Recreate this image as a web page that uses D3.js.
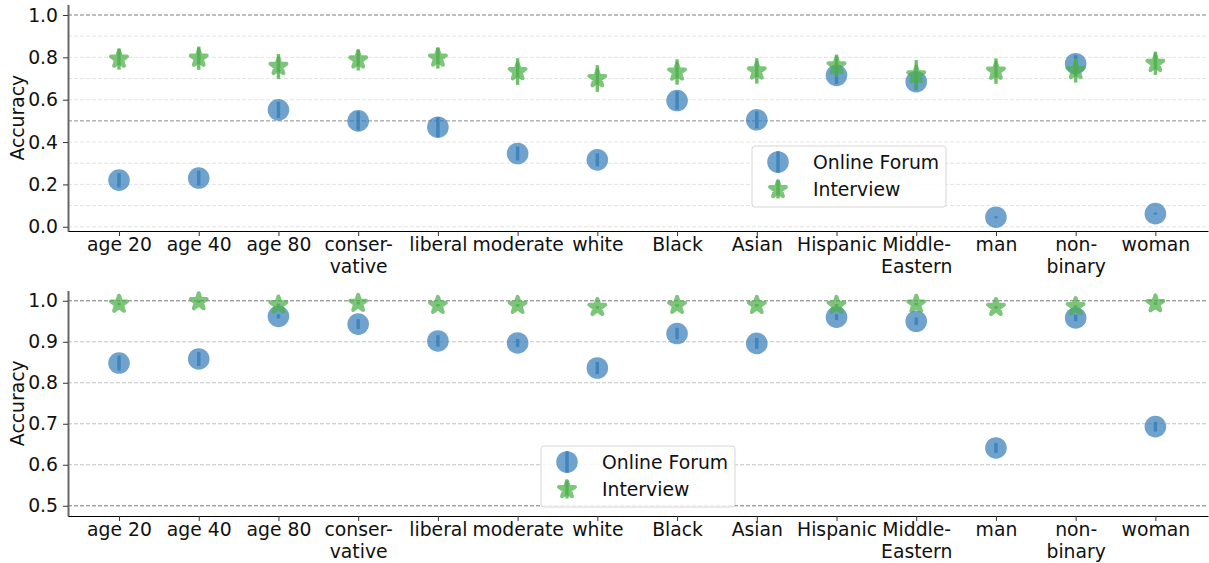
<!DOCTYPE html>
<html lang="en">
<head>
  <meta charset="UTF-8">
  <title>accuracy by group</title>
  <script src="https://d3js.org/d3.v7.min.js"></script>
  <style>
    body { margin: 0; background: #fff; }
    text { font-family: "DejaVu Sans", sans-serif; }
  </style>
</head>
<body>
<script>
  const WIDTH = 1209;
  const HEIGHT = 563;
  const FS = 18.8;

  const categories = ["age 20", "age 40", "age 80", "conser-\nvative", "liberal", "moderate", "white",
    "Black", "Asian", "Hispanic", "Middle-\nEastern", "man", "non-\nbinary", "woman"];
  const seriesNames = ["Online Forum", "Interview"];

  // top panel
  const topForum = [0.22, 0.23, 0.552, 0.50, 0.47, 0.346, 0.316, 0.596, 0.505, 0.715, 0.685, 0.045, 0.77, 0.062];
  const topForumErr = [0.033, 0.035, 0.038, 0.045, 0.047, 0.033, 0.031, 0.043, 0.04, 0.04, 0.04, 0.005, 0.04, 0.005];
  const topInterview = [0.792, 0.796, 0.757, 0.788, 0.797, 0.733, 0.70, 0.731, 0.736, 0.76, 0.717, 0.735, 0.738, 0.772];
  const topInterviewErr = [0.05, 0.055, 0.059, 0.05, 0.05, 0.063, 0.063, 0.06, 0.06, 0.053, 0.07, 0.06, 0.057, 0.055];
  const topTicks = [0.0, 0.2, 0.4, 0.6, 0.8, 1.0];
  const topMinorTicks = [0.1, 0.3, 0.7, 0.9];
  const topRefLines = [0.5, 1.0];

  // bottom panel
  const botForum = [0.848, 0.858, 0.962, 0.943, 0.902, 0.897, 0.836, 0.92, 0.896, 0.96, 0.95, 0.641, 0.958, 0.693];
  const botForumErr = [0.018, 0.017, 0.005, 0.012, 0.014, 0.01, 0.015, 0.014, 0.013, 0.007, 0.009, 0.012, 0.008, 0.012];
  const botInterview = [0.992, 0.998, 0.99, 0.994, 0.989, 0.989, 0.984, 0.989, 0.989, 0.989, 0.992, 0.984, 0.986, 0.993];
  const botInterviewErr = [0.003, 0.003, 0.003, 0.003, 0.003, 0.003, 0.003, 0.003, 0.003, 0.003, 0.003, 0.003, 0.003, 0.003];
  const botTicks = [0.5, 0.6, 0.7, 0.8, 0.9, 1.0];
  const botRefLines = [0.5, 1.0];

  const BLUE = '#377eb8';
  const GREEN = '#4daf4a';
  const ALPHA = 0.72;

  const svg = d3.select('body').append('svg')
    .attr('width', WIDTH)
    .attr('height', HEIGHT);

  const x = d3.scaleLinear()
    .domain([-0.64, 13.66])
    .range([68, 1208]);

  const starPath = d3.symbol(d3.symbolStar).size(78)();

  function star(sel, tx, ty, color) {
    sel.append('path')
      .attr('d', starPath)
      .attr('transform', `translate(${tx},${ty})`)
      .attr('fill', color).attr('stroke', color)
      .attr('stroke-width', 4).attr('stroke-linejoin', 'round')
      .attr('opacity', ALPHA);
  }

  function drawPanel(cfg) {
    const y = d3.scaleLinear().domain(cfg.domain).range(cfg.range);
    const g = svg.append('g');

    // minor grid
    g.selectAll('line.minor')
      .data(cfg.minor)
      .enter().append('line')
      .attr('x1', x.range()[0]).attr('x2', x.range()[1])
      .attr('y1', d => y(d)).attr('y2', d => y(d))
      .attr('stroke', '#dcdcdc').attr('stroke-width', 0.8)
      .attr('stroke-dasharray', '4,2');

    // major grid
    g.selectAll('line.major')
      .data(cfg.ticks)
      .enter().append('line')
      .attr('x1', x.range()[0]).attr('x2', x.range()[1])
      .attr('y1', d => y(d)).attr('y2', d => y(d))
      .attr('stroke', cfg.gridColor).attr('stroke-width', 0.8)
      .attr('stroke-dasharray', '4,2');

    // reference lines
    g.selectAll('line.ref')
      .data(cfg.refs)
      .enter().append('line')
      .attr('x1', x.range()[0]).attr('x2', x.range()[1])
      .attr('y1', d => y(d)).attr('y2', d => y(d))
      .attr('stroke', '#8c8c8c').attr('stroke-width', 1)
      .attr('stroke-dasharray', '4,2');

    // y axis
    const yAxis = g.append('g')
      .attr('transform', `translate(${x.range()[0]},0)`)
      .call(d3.axisLeft(y).tickValues(cfg.ticks).tickFormat(d3.format('.1f'))
        .tickSize(5).tickSizeOuter(0).tickPadding(5));
    yAxis.select('.domain').attr('stroke', '#666').attr('stroke-width', 2);
    yAxis.selectAll('.tick line').attr('stroke', '#333');
    yAxis.selectAll('.tick text').attr('font-size', FS).attr('fill', '#111');

    // x axis
    const xAxis = g.append('g')
      .attr('transform', `translate(0,${cfg.range[0]})`)
      .call(d3.axisBottom(x).tickValues(d3.range(categories.length)).tickFormat(i => categories[i])
        .tickSize(5).tickSizeOuter(0).tickPadding(2));
    xAxis.select('.domain').attr('stroke', '#000').attr('stroke-width', 1.2);
    xAxis.selectAll('.tick line').attr('stroke', '#333');
    xAxis.selectAll('.tick text')
      .attr('font-size', FS).attr('fill', '#111')
      .each(function (d) {
        const t = d3.select(this);
        const lines = categories[d].split('\n');
        t.text(null);
        lines.forEach((s, k) => {
          t.append('tspan').attr('x', 0).attr('dy', k === 0 ? '0.71em' : '1.15em').text(s);
        });
      });

    svg.append('text')
      .attr('transform', `translate(24,${(cfg.range[0] + cfg.range[1]) / 2}) rotate(-90)`)
      .attr('text-anchor', 'middle')
      .attr('font-size', FS)
      .attr('fill', '#111')
      .text('Accuracy');

    // markers
    const marks = g.append('g');
    function series(vals, errs, color, shape) {
      const s = marks.append('g');
      vals.forEach((v, i) => {
        if (shape === 'circle') {
          s.append('circle')
            .attr('cx', x(i)).attr('cy', y(v)).attr('r', 10.8)
            .attr('fill', color).attr('opacity', ALPHA);
        } else {
          star(s, x(i), y(v), color);
        }
        s.append('line')
          .attr('x1', x(i)).attr('x2', x(i))
          .attr('y1', y(v - errs[i])).attr('y2', y(v + errs[i]))
          .attr('stroke', color).attr('stroke-width', 3.4)
          .attr('opacity', 0.8);
      });
    }
    series(cfg.forum, cfg.forumErr, BLUE, 'circle');
    series(cfg.interview, cfg.interviewErr, GREEN, 'star');

    // legend
    const L = cfg.legend;
    const lg = svg.append('g').attr('transform', `translate(${L.x},${L.y})`);
    lg.append('rect')
      .attr('width', 194).attr('height', 61).attr('rx', 3)
      .attr('fill', 'rgba(255,255,255,0.85)')
      .attr('stroke', '#d6d6d6').attr('stroke-width', 1);
    [['circle', BLUE], ['star', GREEN]].forEach(([shape, color], k) => {
      const cy = 16 + k * 27.5;
      if (shape === 'circle') {
        lg.append('circle').attr('cx', 26).attr('cy', cy).attr('r', 10.8)
          .attr('fill', color).attr('opacity', ALPHA);
        lg.append('line').attr('x1', 26).attr('x2', 26).attr('y1', cy - 10.8).attr('y2', cy + 10.8)
          .attr('stroke', color).attr('stroke-width', 3.4).attr('opacity', 0.8);
      } else {
        star(lg, 26, cy, color);
        lg.append('line').attr('x1', 26).attr('x2', 26).attr('y1', cy - 9).attr('y2', cy + 9)
          .attr('stroke', color).attr('stroke-width', 3.4).attr('opacity', 0.8);
      }
      lg.append('text')
        .attr('x', 61).attr('y', cy).attr('dy', '0.35em')
        .attr('font-size', FS).attr('fill', '#111')
        .text(seriesNames[k]);
    });
  }

  drawPanel({
    domain: [-0.02, 1.05], range: [231, 4.4],
    ticks: topTicks, minor: topMinorTicks, refs: topRefLines, gridColor: '#dcdcdc',
    forum: topForum, forumErr: topForumErr,
    interview: topInterview, interviewErr: topInterviewErr,
    legend: { x: 752, y: 146 }
  });

  drawPanel({
    domain: [0.475, 1.025], range: [516, 290.5],
    ticks: botTicks, minor: [], refs: botRefLines, gridColor: '#b4b4b4',
    forum: botForum, forumErr: botForumErr,
    interview: botInterview, interviewErr: botInterviewErr,
    legend: { x: 541, y: 446 }
  });
</script>
</body>
</html>
